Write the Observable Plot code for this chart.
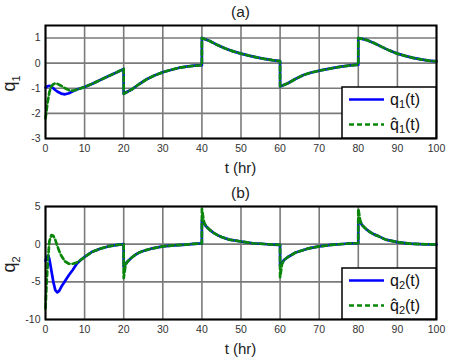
<!DOCTYPE html>
<html>
<head>
<meta charset="utf-8">
<script src="https://cdn.jsdelivr.net/npm/d3@7"></script>
<script src="https://cdn.jsdelivr.net/npm/@observablehq/plot@0.6"></script>
<style>
  html, body { margin: 0; padding: 0; background: #fff; }
  #chart { width: 449px; }
  #chart svg { display: block; }
</style>
</head>
<body>
<div id="chart"></div>
<script>
// ---------- data ----------
const xTicks = [0, 10, 20, 30, 40, 50, 60, 70, 80, 90, 100];
const yTicksA = [-3, -2, -1, 0, 1];
const yTicksB = [-10, -5, 0, 5];

// panel (a): q1
const tA = [0, 0.5, 1, 1.5, 2, 2.5, 3, 4, 5, 6, 7, 8, 10, 12, 14, 16, 18, 19.99,
  20, 22, 24, 26, 28, 30, 32, 34, 36, 38, 39.99,
  40, 42, 44, 46, 48, 50, 52, 54, 56, 58, 59.99,
  60, 62, 64, 66, 68, 70, 72, 74, 76, 78, 79.99,
  80, 82, 84, 86, 88, 90, 92, 94, 96, 98, 100];
const q1 = [-0.97, -0.92, -0.9, -0.94, -1.0, -1.07, -1.13, -1.21, -1.24, -1.2, -1.12, -1.05, -0.95, -0.82, -0.67, -0.52, -0.38, -0.23,
  -1.22, -1.05, -0.83, -0.63, -0.48, -0.36, -0.27, -0.19, -0.14, -0.1, -0.08,
  1.0, 0.88, 0.72, 0.58, 0.47, 0.38, 0.3, 0.23, 0.17, 0.12, 0.08,
  -0.93, -0.8, -0.62, -0.47, -0.37, -0.3, -0.24, -0.18, -0.13, -0.09, -0.06,
  1.0, 0.93, 0.8, 0.65, 0.5, 0.38, 0.29, 0.21, 0.15, 0.1, 0.07];
const q1hat = [-2.2, -1.6, -1.15, -0.92, -0.84, -0.8, -0.82, -0.9, -1.0, -1.07, -1.1, -1.05, -0.95, -0.82, -0.67, -0.52, -0.38, -0.23,
  -1.22, -1.05, -0.83, -0.63, -0.48, -0.36, -0.27, -0.19, -0.14, -0.1, -0.08,
  1.0, 0.88, 0.72, 0.58, 0.47, 0.38, 0.3, 0.23, 0.17, 0.12, 0.08,
  -0.93, -0.8, -0.62, -0.47, -0.37, -0.3, -0.24, -0.18, -0.13, -0.09, -0.06,
  1.0, 0.93, 0.8, 0.65, 0.5, 0.38, 0.29, 0.21, 0.15, 0.1, 0.07];

// panel (b): q2
const tB = [0, 0.3, 0.7, 1, 1.5, 2, 2.5, 3, 3.5, 4, 5, 6, 7, 8, 9, 10, 12, 14, 16, 18, 19.99,
  20, 20.5, 21, 22, 23, 24, 25, 27, 30, 33, 36, 38, 39.99,
  40, 40.5, 41, 42, 43, 44, 45, 47, 50, 53, 56, 58, 59.99,
  60, 60.5, 61, 62, 63, 64, 65, 67, 70, 73, 76, 78, 79.99,
  80, 80.5, 81, 82, 83, 84, 85, 87, 90, 93, 96, 100];
const q2 = [-2.2, -1.7, -1.5, -2.0, -3.5, -5.0, -6.1, -6.4, -6.2, -5.7, -4.9, -4.1, -3.4, -2.6, -2.1, -1.7, -1.0, -0.6, -0.3, -0.12, 0.0,
  -3.0, -2.6, -2.3, -1.8, -1.4, -1.1, -0.9, -0.6, -0.3, -0.15, -0.05, 0.05, 0.1,
  3.1, 2.8, 2.4, 1.9, 1.5, 1.2, 0.95, 0.6, 0.35, 0.12, 0.02, -0.05, -0.1,
  -2.9, -2.5, -2.1, -1.7, -1.4, -1.1, -0.95, -0.6, -0.3, -0.1, 0.02, 0.1, 0.15,
  3.2, 2.9, 2.5, 2.0, 1.6, 1.3, 1.1, 0.6, 0.28, 0.08, 0.0, -0.05];
const q2hat = [-8.5, -5.0, -1.6, 0.4, 1.2, 1.1, 0.6, -0.2, -0.9, -1.5, -2.3, -2.6, -2.6, -2.45, -2.1, -1.7, -1.0, -0.6, -0.3, -0.12, 0.0,
  -4.5, -2.7, -2.3, -1.8, -1.4, -1.1, -0.9, -0.6, -0.3, -0.15, -0.05, 0.05, 0.1,
  4.7, 3.0, 2.4, 1.9, 1.5, 1.2, 0.95, 0.6, 0.35, 0.12, 0.02, -0.05, -0.1,
  -4.4, -2.6, -2.1, -1.7, -1.4, -1.1, -0.95, -0.6, -0.3, -0.1, 0.02, 0.1, 0.15,
  4.7, 3.1, 2.5, 2.0, 1.6, 1.3, 1.1, 0.6, 0.28, 0.08, 0.0, -0.05];

const seriesNames = ["q", "q\u0302"];
const BLUE = "#0000ff", GREEN = "#0a860a";
const FONT = "'Liberation Sans', Arial, sans-serif";

function panel({t, a, b, yDomain, yTicks, title, idx, mTop, mBottom}) {
  const W = 449, H = 182;
  const dA = t.map((x, i) => ({t: x, v: a[i]}));
  const dB = t.map((x, i) => ({t: x, v: b[i]}));
  const svg = Plot.plot({
    width: W, height: H,
    marginTop: mTop, marginBottom: mBottom, marginLeft: 45, marginRight: 13,
    style: {fontFamily: FONT, fontSize: "10.5px", color: "#333", background: "white", overflow: "visible"},
    x: {domain: [0, 100], ticks: xTicks, tickSize: 0, tickPadding: 6, tickFormat: d => String(d), label: null},
    y: {domain: yDomain, ticks: yTicks, tickSize: 0, tickPadding: 5, tickFormat: d => String(d), label: null},
    marks: [
      Plot.ruleX(xTicks, {stroke: "#7a7a7a", strokeWidth: 1.6}),
      Plot.ruleY(yTicks, {stroke: "#7a7a7a", strokeWidth: 1.6}),
      Plot.line(dA, {x: "t", y: "v", stroke: BLUE, strokeWidth: 2.7}),
      Plot.line(dB, {x: "t", y: "v", stroke: GREEN, strokeWidth: 2.7, strokeDasharray: "5,3"}),
      Plot.frame({stroke: "black", strokeWidth: 2})
    ]
  });
  const s = d3.select(svg);
  const left = 45, right = W - 13, top = mTop, bottom = H - mBottom;
  const cx = (left + right) / 2;
  // title
  s.append("text").attr("x", cx).attr("y", top - 8).attr("text-anchor", "middle")
    .attr("font-family", FONT).attr("font-size", 15.5).attr("fill", "#222").text(title);
  // x label
  s.append("text").attr("x", cx).attr("y", bottom + 35).attr("text-anchor", "middle")
    .attr("font-family", FONT).attr("font-size", 15).attr("fill", "#222").text("t (hr)");
  // y label
  const cy = (top + bottom) / 2;
  const yl = s.append("text").attr("transform", `translate(15,${cy + 2}) rotate(-90)`)
    .attr("text-anchor", "middle").attr("font-family", FONT).attr("font-size", 18).attr("fill", "#222");
  yl.append("tspan").text("q");
  yl.append("tspan").attr("font-size", 11).attr("dy", 5).text(String(idx));
  // legend
  const lx0 = right - 94, ly0 = bottom - 51;
  s.append("rect").attr("x", lx0).attr("y", ly0).attr("width", right - lx0).attr("height", bottom - ly0)
    .attr("fill", "white").attr("stroke", "black").attr("stroke-width", 1.5);
  const rows = [{c: BLUE, dash: null, name: seriesNames[0]}, {c: GREEN, dash: "5,3", name: seriesNames[1]}];
  rows.forEach((r, i) => {
    const ry = ly0 + 12.5 + i * 25;
    s.append("line").attr("x1", lx0 + 7).attr("x2", lx0 + 42).attr("y1", ry).attr("y2", ry)
      .attr("stroke", r.c).attr("stroke-width", 2.7).attr("stroke-dasharray", r.dash);
    const tx = s.append("text").attr("x", lx0 + 48).attr("y", ry + 5).attr("text-anchor", "start")
      .attr("font-family", FONT).attr("font-size", 16).attr("fill", "#111");
    tx.append("tspan").text(r.name);
    tx.append("tspan").attr("font-size", 11).attr("dy", 3).text(String(idx));
    tx.append("tspan").attr("dy", -3).text("(t)");
  });
  return svg;
}

const root = document.getElementById("chart");
root.appendChild(panel({t: tA, a: q1, b: q1hat, yDomain: [-3, 1.5], yTicks: yTicksA, title: "(a)", idx: 1, mTop: 25, mBottom: 44}));
root.appendChild(panel({t: tB, a: q2, b: q2hat, yDomain: [-10, 5], yTicks: yTicksB, title: "(b)", idx: 2, mTop: 24, mBottom: 45}));
</script>
</body>
</html>
